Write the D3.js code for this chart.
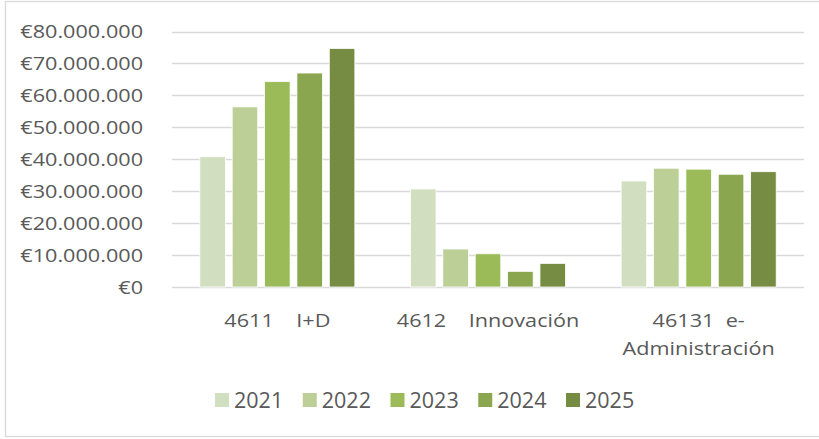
<!DOCTYPE html>
<html>
<head>
<meta charset="utf-8">
<script src="https://cdn.jsdelivr.net/npm/d3@7"></script>
<style>
  html, body { margin: 0; padding: 0; background: #ffffff; }
  svg { display: block; }
  text { font-family: "Open Sans", "Liberation Sans", sans-serif; fill: #595959; white-space: pre; }
</style>
</head>
<body>
<svg id="chart" width="819" height="439"></svg>
<script>
// ---- data ----
const categories = ["4611    I+D", "4612    Innovación", "46131  e-\nAdministración"];
const seriesNames = ["2021", "2022", "2023", "2024", "2025"];
const values2021 = [40800000, 30700000, 33200000];
const values2022 = [56400000, 11900000, 37200000];
const values2023 = [64300000, 10400000, 36900000];
const values2024 = [67000000, 4900000, 35300000];
const values2025 = [74700000, 7400000, 36100000];
const yTicks = [0, 10000000, 20000000, 30000000, 40000000, 50000000, 60000000, 70000000, 80000000];
const colors = ["#d2dec0", "#bbcf97", "#9bbb59", "#8aa64e", "#768c42"];

const seriesValues = [values2021, values2022, values2023, values2024, values2025];

const svg = d3.select("#chart");

// outer border
svg.append("rect")
  .attr("x", 5.5).attr("y", 1.5)
  .attr("width", 830).attr("height", 435)
  .attr("fill", "none").attr("stroke", "#d9d9d9").attr("stroke-width", 1.3);

const plotLeft = 172, plotRight = 804, plotTop = 31.5, plotBottom = 287;

const y = d3.scaleLinear().domain([0, 80000000]).range([plotBottom, plotTop]);
const x0 = d3.scaleBand().domain(categories).range([plotLeft, plotRight])
  .paddingInner(0.264).paddingOuter(0.132);
const x1 = d3.scaleBand().domain(seriesNames).range([0, x0.bandwidth()])
  .paddingInner(0.21).paddingOuter(0);

function fmt(v) {
  if (v === 0) return "€0";
  return "€" + d3.format(",")(v).replace(/,/g, ".");
}

function scaledText(g, x, yy, str, size, sx, anchor) {
  const t = g.append("text")
    .attr("transform", `translate(${x},${yy}) scale(${sx},1)`)
    .attr("text-anchor", anchor)
    .style("font-size", size + "px")
    .text(str);
  return t;
}

// gridlines
svg.append("g").selectAll("line").data(yTicks).join("line")
  .attr("x1", plotLeft).attr("x2", plotRight)
  .attr("y1", d => Math.round(y(d)) + 0.5).attr("y2", d => Math.round(y(d)) + 0.5)
  .attr("stroke", "#d9d9d9").attr("stroke-width", 1.3);

// y labels
const yl = svg.append("g");
yTicks.forEach(t => scaledText(yl, 143, y(t) + 6.8, fmt(t), 18.5, 1.17, "end"));

// bars
const groups = svg.append("g").selectAll("g").data(categories).join("g")
  .attr("transform", d => `translate(${x0(d)},0)`);
groups.selectAll("rect")
  .data((d, i) => seriesNames.map((s, j) => ({ s, j, v: seriesValues[j][i] })))
  .join("rect")
  .attr("x", d => x1(d.s))
  .attr("width", x1.bandwidth())
  .attr("y", d => y(d.v))
  .attr("height", d => y(0) - y(d.v))
  .attr("fill", d => colors[d.j])
  .attr("stroke", "#ffffff").attr("stroke-width", 0.8);

// x labels
const xl = svg.append("g");
categories.forEach(c => {
  const cx = x0(c) + x0.bandwidth() / 2;
  c.split("\n").forEach((line, k) => {
    scaledText(xl, cx, 326.7 + k * 28.5, line, 18.5, 1.17, "middle");
  });
});

// legend
const legStart = 215, legStep = 87.75;
const lg = svg.append("g");
seriesNames.forEach((s, j) => {
  const lx = legStart + j * legStep;
  lg.append("rect").attr("x", lx).attr("y", 393).attr("width", 14).attr("height", 14)
    .attr("fill", colors[j]);
  scaledText(lg, lx + 19, 408, s, 21.5, 1.0, "start");
});
</script>
</body>
</html>
